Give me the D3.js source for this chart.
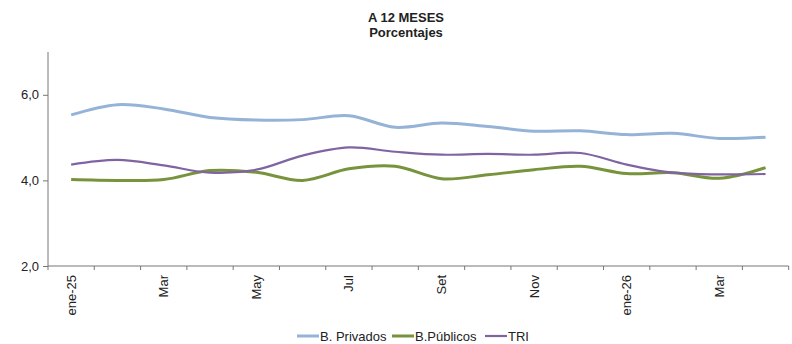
<!DOCTYPE html>
<html>
<head>
<meta charset="utf-8">
<script src="https://cdn.jsdelivr.net/npm/d3@7"></script>
<style>
  body { margin: 0; background: #fff; }
  svg { display: block; font-family: "Liberation Sans", Arial, sans-serif; }
</style>
</head>
<body>
<svg id="chart" width="792" height="344"></svg>
<script>
// Monthly categories, Jan-2025 through Apr-2026
const months = ["ene-25","feb","Mar","abr","May","jun","Jul","ago","Set","oct","Nov","dic","ene-26","feb","Mar","abr"];
// Only every second month carries a label
const monthLabels = ["ene-25","","Mar","","May","","Jul","","Set","","Nov","","ene-26","","Mar",""];

const privados = [5.53,5.77,5.67,5.47,5.41,5.42,5.51,5.24,5.34,5.26,5.15,5.16,5.07,5.10,4.98,5.01];
const publicos = [4.02,4.00,4.02,4.23,4.19,4.00,4.27,4.33,4.04,4.13,4.25,4.33,4.16,4.18,4.05,4.30];
const tri      = [4.37,4.48,4.35,4.18,4.25,4.58,4.77,4.67,4.60,4.62,4.60,4.64,4.37,4.18,4.14,4.15];

const yTicks = [2, 4, 6];
const seriesNames = ["B. Privados", "B.Públicos", "TRI"];

const series = [
  { name: seriesNames[0], values: privados, color: "#95B3D7", width: 3 },
  { name: seriesNames[1], values: publicos, color: "#77933C", width: 3 },
  { name: seriesNames[2], values: tri,      color: "#8064A2", width: 2.2 }
];

const svg = d3.select("#chart");
const plotLeft = 48, plotRight = 788.7, plotTop = 52, plotBottom = 266;

const x = d3.scaleBand().domain(d3.range(months.length)).range([plotLeft, plotRight]).paddingInner(0).paddingOuter(0);
const y = d3.scaleLinear().domain([2, 7]).range([plotBottom, plotTop]);

const fmt = v => d3.format(".1f")(v).replace(".", ",");

// Title
const title = svg.append("text").attr("text-anchor", "middle")
  .style("font-size", "13px").style("font-weight", "bold").attr("fill", "#222");
title.append("tspan").attr("x", 406).attr("y", 22).text("A 12 MESES");
title.append("tspan").attr("x", 406).attr("y", 37).text("Porcentajes");

// Y axis
const yAxis = svg.append("g").attr("transform", `translate(${plotLeft},0)`)
  .call(d3.axisLeft(y).tickValues(yTicks).tickFormat(fmt).tickSize(5).tickPadding(4));
yAxis.select(".domain").attr("stroke", "#777").attr("d", `M0,${plotTop}V${plotBottom}`);
yAxis.selectAll(".tick line").attr("stroke", "#777");
yAxis.selectAll("text").style("font-size", "13px").attr("fill", "#222");

// X axis: tick marks on category boundaries
const xg = svg.append("g").attr("transform", `translate(0,${plotBottom})`);
xg.append("line").attr("x1", plotLeft).attr("x2", plotRight).attr("stroke", "#777");
const boundaries = d3.range(months.length + 1).map(i => i < months.length ? x(i) : plotRight);
xg.selectAll("line.tk").data(boundaries).join("line").attr("class", "tk")
  .attr("x1", d => d).attr("x2", d => d).attr("y1", 0).attr("y2", 4).attr("stroke", "#777");
xg.selectAll("text.lbl").data(monthLabels).join("text").attr("class", "lbl")
  .attr("transform", (d, i) => `translate(${x(i) + x.bandwidth() / 2},9) rotate(-90)`)
  .attr("text-anchor", "end").attr("dy", "0.35em")
  .style("font-size", "13px").attr("fill", "#222")
  .text(d => d);

// Lines
const line = d3.line()
  .x((d, i) => x(i) + x.bandwidth() / 2)
  .y(d => y(d))
  .curve(d3.curveCatmullRom.alpha(0.5));

svg.append("g").selectAll("path").data(series).join("path")
  .attr("d", s => line(s.values))
  .attr("fill", "none")
  .attr("stroke", s => s.color)
  .attr("stroke-width", s => s.width)
  .attr("stroke-linejoin", "round");

// Legend
const legendItems = [
  { x: 297, color: series[0].color, w: series[0].width, label: seriesNames[0] },
  { x: 392, color: series[1].color, w: series[1].width, label: seriesNames[1] },
  { x: 485, color: series[2].color, w: series[2].width, label: seriesNames[2] }
];
const lg = svg.append("g");
legendItems.forEach(it => {
  lg.append("line").attr("x1", it.x).attr("x2", it.x + 22).attr("y1", 336).attr("y2", 336)
    .attr("stroke", it.color).attr("stroke-width", it.w);
  lg.append("text").attr("x", it.x + 23).attr("y", 336).attr("dy", "0.35em")
    .style("font-size", "13px").attr("fill", "#222").text(it.label);
});
</script>
</body>
</html>
